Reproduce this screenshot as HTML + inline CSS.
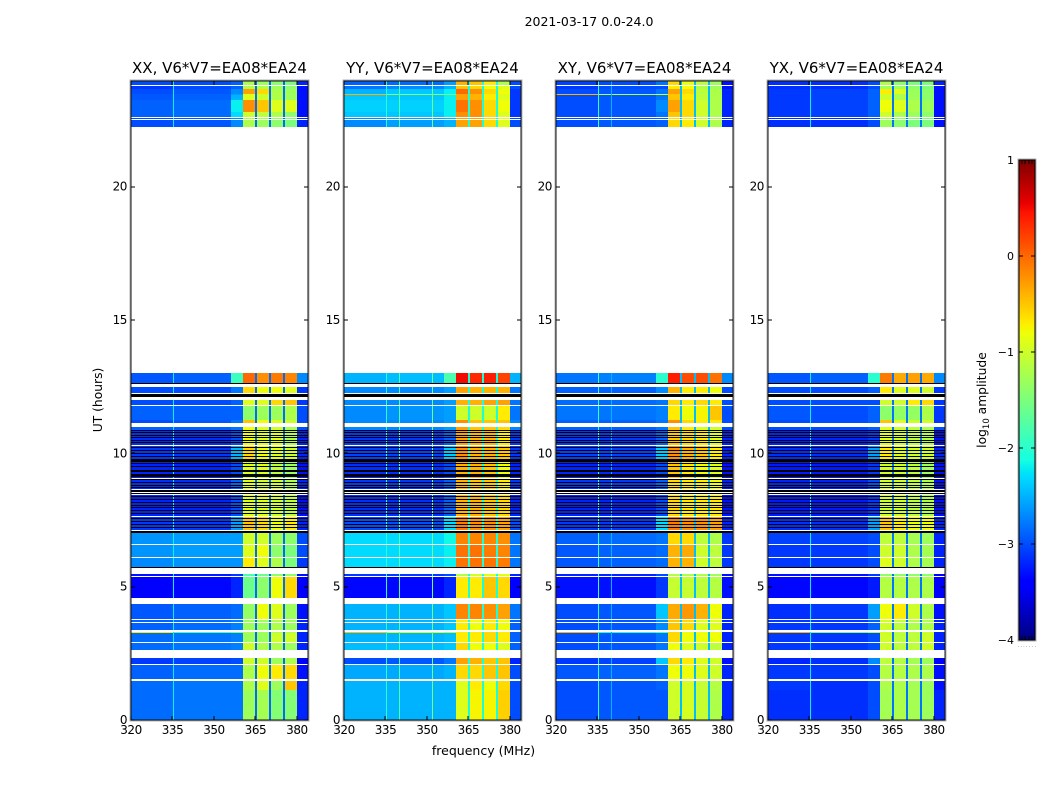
<!DOCTYPE html>
<html>
<head>
<meta charset="utf-8">
<title>2021-03-17 dynamic spectrum</title>
<style>
html,body{margin:0;padding:0;background:#fff;}
svg{display:block;font-family:"DejaVu Sans","Liberation Sans",sans-serif;fill:#000;}
</style>
</head>
<body>
<svg id="figure" xmlns="http://www.w3.org/2000/svg" width="1050" height="800" viewBox="0 0 1050 800">
<text x="589" y="26" font-size="12.5" text-anchor="middle">2021-03-17 0.0-24.0</text>
<text x="483.500" y="755" font-size="12.5" text-anchor="middle">frequency (MHz)</text>
<text x="102" y="400" font-size="12.3" text-anchor="middle" transform="rotate(-90 102 400)">UT (hours)</text>
<text x="986" y="400" font-size="12.3" text-anchor="middle" transform="rotate(-90 986 400)">log<tspan font-size="8.500" dy="3">10</tspan><tspan dy="-3"> amplitude</tspan></text>
<g id="panels"></g>
<g id="colorbar"></g>
</svg>
<script>
// ---- chart data (log10 amplitude, hours, MHz) ----
const panelTitles = ["XX, V6*V7=EA08*EA24","YY, V6*V7=EA08*EA24","XY, V6*V7=EA08*EA24","YX, V6*V7=EA08*EA24"];
const xTickValues = [320,335,350,365,380];
const yTickValues = [0,5,10,15,20];
const colorbarTicks = [-4,-3,-2,-1,0,1];

// frequency bins: edges in MHz, and which row column (0-7) or special level each bin reads
const freqEdges = [320,335.3,335.7,339.9,340.3,351.7,352.1,356,360.5,364.7,365.6,369.9,370.7,374.9,375.7,380,384];
const binColumn = [0,"L0",1,"L1",1,"L2",1,2,3,"G",4,"G",5,"G",6,7];

// time rows with data, in UT hours
const rowStart = [0,1.13,1.53,2.10,2.63,2.925,3.27,3.36,3.675,3.80,4.58,5.41,5.74,6.11,6.6,7.14,7.65,8.66,9.09,9.77,10.31,10.875,11.125,11.25,11.82,12.25,12.63,22.24,22.54,22.6,22.8,23.25,23.45,23.49,23.66,23.8];
const rowEnd   = [1.13,1.47,2.05,2.34,2.89,3.27,3.31,3.64,3.75,4.35,5.37,5.49,6.075,6.56,7.03,7.61,8.43,9.05,9.77,10.27,10.875,10.97,11.25,11.79,12.0,12.5,13.0,22.48,22.57,22.8,23.25,23.45,23.49,23.66,23.76,23.96];

// under-range (black) flagged rows, in UT hours
const underStart = [5.70,7.03,7.22,7.31,7.425,7.54,7.74,7.86,7.95,8.04,8.14,8.25,8.36,8.475,8.56,8.72,8.79,8.89,9.0,9.13,9.3,9.51,9.6,9.675,9.86,9.975,10.09,10.2,10.39,10.48,10.575,10.65,10.76,10.856,12.1,12.58];
const underEnd   = [5.74,7.09,7.25,7.34,7.455,7.57,7.77,7.89,7.98,8.07,8.17,8.28,8.39,8.52,8.625,8.75,8.82,8.92,9.03,9.24,9.375,9.54,9.64,9.77,9.89,10.005,10.12,10.23,10.42,10.51,10.605,10.68,10.79,10.886,12.22,12.62];

// per-panel levels of narrow RFI lines [L0,L1,L2] and of the sub-band gaps
const lineLevels = [[-2.2,null,null],[-2.0,-1.8,-1.6],[-1.9,-2.5,null],[-2.2,null,null]];
const gapLevels = [-2.85,-2.1,-2.45,-2.8];

// row columns: low, mid, edge, band1, band2, band3, band4, right
const xxRows = [
[-2.85,-2.8,-2.8,-1.3,-1.25,-1.45,-1.45,-3.2],
[-2.85,-2.8,-2.8,-1.2,-0.9,-1.3,-0.5,-3.2],
[-2.9,-2.85,-2.85,-1.2,-0.8,-0.7,-0.6,-3.3],
[-3.1,-3.05,-3.0,-1.0,-1.0,-1.3,-1.2,-3.4],
[-2.85,-2.8,-2.75,-1.0,-1.2,-1.2,-1.3,-3.2],
[-2.85,-2.8,-2.75,-1.3,-1.3,-1.0,-1.0,-3.2],
[-0.7,-1.8,-1.5,-1.2,-1.3,-1.2,-1.2,-3.2],
[-2.9,-2.85,-2.75,-1.3,-1.3,-1.2,-1.3,-3.2],
[-2.9,-2.85,-2.75,-1.3,-1.3,-1.2,-1.3,-3.2],
[-2.95,-2.9,-2.85,-1.35,-0.8,-0.9,-1.3,-3.3],
[-3.4,-3.35,-3.2,-1.6,-1.4,-0.8,-0.6,-3.4],
[-3.3,-3.25,-3.1,-1.8,-1.6,-1.4,-1.4,-3.3],
[-2.7,-2.65,-2.65,-0.7,-0.9,-1.2,-1.5,-3.1],
[-2.65,-2.6,-2.6,-0.9,-0.8,-1.4,-1.5,-3.0],
[-2.65,-2.6,-2.6,-1.0,-1.0,-1.3,-1.4,-3.0],
[-3.1,-3.1,-2.6,-0.5,-0.6,-0.8,-0.7,-3.2],
[-3.2,-3.2,-3.0,-0.9,-0.9,-1.0,-1.1,-3.3],
[-3.15,-3.15,-2.9,-0.9,-1.0,-1.0,-1.2,-3.2],
[-3.2,-3.2,-3.0,-0.9,-0.9,-1.1,-1.3,-3.3],
[-3.1,-3.1,-2.5,-0.6,-0.8,-0.9,-1.0,-3.2],
[-3.15,-3.15,-3.0,-0.8,-0.9,-0.9,-1.2,-3.2],
[-2.9,-2.9,-2.8,-0.8,-0.9,-1.0,-1.2,-3.0],
[-3.0,-2.95,-2.8,-0.5,-0.8,-0.9,-1.0,-3.0],
[-2.9,-2.9,-2.9,-1.4,-1.3,-1.3,-1.2,-3.0],
[-3.0,-3.0,-2.9,-0.9,-0.9,-0.6,-0.5,-3.1],
[-3.0,-3.0,-2.8,-0.6,-0.8,-0.8,-0.9,-3.1],
[-2.95,-2.9,-1.9,0.0,-0.2,-0.1,-0.15,-2.7],
[-3.0,-2.95,-2.7,-1.2,-1.3,-1.4,-1.5,-3.2],
[-3.0,-2.95,-2.7,-1.2,-1.3,-1.4,-1.5,-3.2],
[-2.9,-2.85,-2.3,-1.0,-1.1,-1.2,-1.4,-3.3],
[-2.9,-2.85,-2.2,-0.2,-0.5,-0.9,-0.9,-3.3],
[-2.95,-2.9,-2.5,-0.9,-1.0,-1.2,-1.3,-3.3],
[-2.95,-2.9,-2.6,-0.9,-1.0,-1.2,-1.3,-3.3],
[-3.0,-2.95,-2.7,-0.3,-0.6,-1.2,-1.3,-3.3],
[-3.1,-3.0,-2.9,-1.2,-1.2,-1.3,-1.4,-3.3],
[-3.0,-3.0,-2.9,-1.2,-1.3,-1.4,-1.5,-3.2]
];
const yyRows = [
[-2.5,-2.5,-2.5,-0.9,-0.75,-0.75,-0.55,-3.0],
[-2.5,-2.5,-2.5,-0.9,-0.7,-0.8,-0.6,-3.0],
[-2.55,-2.55,-2.5,-0.6,-0.6,-0.5,-0.5,-3.0],
[-3.0,-2.95,-2.8,-0.3,-0.4,-0.5,-0.5,-3.2],
[-2.45,-2.45,-2.4,-0.6,-0.8,-0.8,-0.9,-2.9],
[-2.5,-2.5,-2.45,-0.7,-0.7,-0.6,-0.7,-2.9],
[-0.5,-1.0,-1.2,-0.7,-0.7,-0.6,-0.7,-2.9],
[-2.5,-2.5,-2.4,-0.7,-0.8,-0.7,-0.8,-2.9],
[-2.5,-2.5,-2.4,-0.7,-0.8,-0.7,-0.8,-2.9],
[-2.5,-2.5,-2.4,-0.15,-0.15,-0.2,-0.3,-2.8],
[-3.35,-3.35,-3.2,-0.7,-0.7,-0.5,-0.6,-3.4],
[-3.1,-3.1,-3.0,-1.2,-1.0,-0.9,-0.9,-3.2],
[-2.3,-2.3,-2.2,-0.05,-0.05,-0.05,-0.1,-2.8],
[-2.3,-2.3,-2.2,-0.05,-0.05,-0.1,-0.15,-2.8],
[-2.3,-2.3,-2.15,-0.15,-0.15,-0.15,-0.2,-2.8],
[-3.0,-3.0,-2.3,-0.1,-0.2,-0.2,-0.3,-3.0],
[-3.15,-3.15,-2.9,-0.4,-0.4,-0.5,-0.6,-3.2],
[-3.1,-3.1,-2.9,-0.4,-0.5,-0.5,-0.7,-3.1],
[-3.15,-3.15,-3.0,-0.4,-0.4,-0.5,-0.8,-3.2],
[-3.05,-3.05,-2.4,-0.2,-0.4,-0.4,-0.5,-3.1],
[-3.1,-3.1,-2.9,-0.3,-0.4,-0.4,-0.7,-3.1],
[-2.7,-2.7,-2.6,-0.3,-0.5,-0.5,-0.6,-2.7],
[-2.7,-2.7,-2.6,-0.2,-0.5,-0.5,-0.5,-2.7],
[-2.7,-2.65,-2.6,-1.0,-1.0,-1.0,-0.7,-2.8],
[-2.7,-2.7,-2.6,-0.4,-0.4,-0.3,-0.3,-2.8],
[-2.7,-2.7,-2.6,-0.3,-0.4,-0.4,-0.4,-2.8],
[-2.5,-2.45,-1.8,0.5,0.35,0.4,0.2,-2.5],
[-2.7,-2.6,-2.5,-0.3,-0.3,-0.6,-0.9,-3.0],
[-2.7,-2.6,-2.5,-0.3,-0.3,-0.6,-0.9,-3.0],
[-2.4,-2.4,-2.2,-0.2,-0.2,-0.6,-0.9,-3.1],
[-2.35,-2.35,-2.2,-0.05,-0.2,-0.6,-0.8,-3.1],
[-2.4,-2.4,-2.2,-0.3,-0.4,-0.7,-0.9,-3.1],
[-0.4,-1.5,-1.6,-0.3,-0.4,-0.7,-0.9,-3.1],
[-2.5,-2.4,-2.2,0.0,-0.2,-0.6,-0.8,-3.1],
[-2.8,-2.7,-2.5,-0.5,-0.6,-0.8,-0.9,-3.0],
[-2.9,-2.85,-2.6,-0.4,-0.5,-0.7,-1.2,-3.0]
];
const xyRows = [
[-3.0,-2.95,-2.95,-1.0,-0.95,-1.05,-1.2,-3.2],
[-3.0,-2.95,-2.9,-1.0,-0.95,-1.05,-1.15,-3.2],
[-2.95,-2.9,-2.8,-0.8,-0.8,-0.9,-1.0,-3.2],
[-3.1,-3.05,-2.4,-0.6,-0.7,-0.9,-1.0,-3.3],
[-3.0,-2.95,-2.8,-0.8,-0.9,-1.0,-1.1,-3.2],
[-3.0,-2.95,-2.8,-0.6,-0.8,-0.8,-0.8,-3.2],
[-0.4,-2.0,-1.8,-0.6,-0.8,-0.8,-0.8,-3.2],
[-3.0,-2.95,-2.7,-0.5,-0.6,-0.9,-0.9,-3.2],
[-3.0,-2.95,-2.7,-0.5,-0.6,-0.9,-0.9,-3.2],
[-3.0,-2.95,-2.4,-0.35,-0.25,-0.4,-0.8,-3.2],
[-3.3,-3.3,-3.1,-1.05,-1.05,-1.1,-1.15,-3.3],
[-3.2,-3.2,-3.0,-1.2,-1.2,-1.2,-1.3,-3.3],
[-2.95,-2.9,-2.85,-0.4,-0.4,-1.0,-1.1,-3.1],
[-2.95,-2.9,-2.85,-0.4,-0.35,-1.0,-1.1,-3.1],
[-2.9,-2.85,-2.8,-0.6,-0.6,-1.1,-1.2,-3.1],
[-3.1,-3.1,-2.3,-0.1,-0.2,-0.2,-0.3,-3.2],
[-3.2,-3.2,-3.0,-0.6,-0.7,-0.7,-0.7,-3.3],
[-3.1,-3.1,-2.9,-0.6,-0.7,-0.7,-0.8,-3.2],
[-3.2,-3.2,-3.0,-0.5,-0.7,-0.8,-0.9,-3.3],
[-3.05,-3.05,-2.4,-0.2,-0.4,-0.5,-0.7,-3.2],
[-3.1,-3.1,-2.9,-0.5,-0.6,-0.7,-0.9,-3.2],
[-2.9,-2.9,-2.8,-0.5,-0.7,-0.9,-1.0,-3.0],
[-2.9,-2.9,-2.8,-0.2,-0.6,-0.7,-0.7,-3.0],
[-2.8,-2.8,-2.75,-0.7,-0.8,-0.75,-0.5,-3.0],
[-2.85,-2.85,-2.8,-0.6,-0.7,-0.6,-0.7,-3.0],
[-2.9,-2.9,-2.7,-0.4,-0.7,-0.7,-0.8,-3.0],
[-2.8,-2.75,-2.0,0.4,0.15,0.15,-0.05,-2.7],
[-3.0,-2.95,-2.9,-0.6,-0.7,-1.0,-1.2,-3.2],
[-3.0,-2.95,-2.9,-0.6,-0.7,-1.0,-1.2,-3.2],
[-3.0,-2.95,-2.8,-0.5,-0.6,-1.0,-1.2,-3.2],
[-3.0,-2.95,-2.7,-0.3,-0.6,-1.0,-1.2,-3.2],
[-3.0,-2.95,-2.8,-0.5,-0.7,-1.1,-1.2,-3.2],
[-0.4,-1.2,-1.0,-0.5,-0.7,-1.1,-1.2,-3.2],
[-3.0,-2.95,-2.8,-0.3,-0.6,-1.1,-1.2,-3.2],
[-3.1,-3.0,-3.0,-0.7,-0.8,-1.2,-1.3,-3.3],
[-3.05,-3.0,-2.8,-0.6,-0.8,-1.1,-1.3,-3.3]
];
const yxRows = [
[-3.15,-3.15,-3.0,-1.25,-1.2,-1.25,-1.3,-3.2],
[-3.1,-3.15,-3.0,-1.2,-1.2,-1.25,-1.3,-3.3],
[-3.1,-3.1,-3.0,-1.15,-1.15,-1.2,-1.2,-3.3],
[-3.2,-3.15,-2.7,-1.1,-1.15,-1.25,-1.3,-3.4],
[-3.1,-3.1,-3.0,-1.0,-1.1,-1.1,-1.0,-3.2],
[-3.1,-3.1,-3.0,-1.0,-1.1,-1.1,-1.0,-3.2],
[-0.4,-1.5,-1.2,-1.0,-1.1,-1.1,-1.0,-3.2],
[-3.1,-3.1,-2.9,-1.0,-1.1,-1.2,-1.2,-3.2],
[-3.1,-3.1,-2.9,-1.0,-1.1,-1.2,-1.2,-3.2],
[-3.15,-3.1,-2.6,-0.8,-0.7,-1.0,-1.2,-3.3],
[-3.35,-3.35,-3.25,-1.15,-1.15,-1.2,-1.2,-3.4],
[-3.3,-3.3,-3.1,-1.4,-1.4,-1.4,-1.4,-3.4],
[-3.1,-3.1,-3.0,-0.9,-1.0,-1.2,-1.25,-3.2],
[-3.1,-3.1,-3.0,-1.0,-1.0,-1.2,-1.25,-3.2],
[-3.05,-3.05,-3.0,-1.1,-1.1,-1.25,-1.3,-3.2],
[-3.15,-3.15,-2.6,-0.5,-0.7,-0.8,-0.8,-3.2],
[-3.25,-3.25,-3.1,-1.0,-1.0,-1.1,-1.2,-3.3],
[-3.2,-3.2,-3.0,-1.0,-1.0,-1.1,-1.2,-3.3],
[-3.25,-3.25,-3.1,-1.0,-1.0,-1.1,-1.3,-3.3],
[-3.15,-3.15,-2.6,-0.7,-0.9,-1.0,-1.0,-3.2],
[-3.2,-3.2,-3.1,-0.9,-1.0,-1.1,-1.2,-3.3],
[-3.0,-3.0,-2.9,-0.9,-1.0,-1.1,-1.2,-3.0],
[-3.0,-3.0,-2.9,-0.5,-0.9,-1.0,-1.0,-3.1],
[-2.95,-3.0,-2.9,-1.4,-1.35,-1.35,-1.2,-3.1],
[-3.0,-3.0,-3.0,-1.0,-1.0,-0.7,-0.6,-3.1],
[-3.0,-3.0,-2.9,-0.7,-0.9,-0.9,-1.0,-3.1],
[-2.95,-2.9,-2.0,-0.1,-0.35,-0.3,-0.35,-2.7],
[-3.15,-3.15,-3.0,-1.3,-1.4,-1.5,-1.5,-3.3],
[-3.15,-3.15,-3.0,-1.3,-1.4,-1.5,-1.5,-3.3],
[-3.1,-3.05,-2.9,-1.0,-1.2,-1.3,-1.4,-3.3],
[-3.1,-3.05,-2.9,-0.8,-0.9,-1.2,-1.3,-3.3],
[-3.1,-3.05,-2.9,-1.0,-1.2,-1.3,-1.4,-3.3],
[-3.1,-3.05,-2.9,-1.0,-1.2,-1.3,-1.4,-3.3],
[-3.1,-3.05,-2.9,-0.7,-0.9,-1.3,-1.4,-3.3],
[-3.15,-3.15,-3.0,-1.3,-1.3,-1.4,-1.5,-3.3],
[-3.15,-3.15,-3.0,-1.2,-1.4,-1.5,-1.5,-3.2]
];
const panelRows = [xxRows,yyRows,xyRows,yxRows];

// ---- layout and scales ----
const SVG_NS = "http://www.w3.org/2000/svg";
const panelLeft = [131,344,556,768];
const axisWidth = 177, axisTop = 81, axisBottom = 720;
const freqMin = 320, freqMax = 384, hourMin = 0, hourMax = 23.96;
function xScale(panel, f){ return panelLeft[panel] + (f - freqMin) / (freqMax - freqMin) * axisWidth; }
function yScale(h){ return axisBottom - (h - hourMin) / (hourMax - hourMin) * (axisBottom - axisTop); }
const cbLeft = 1019, cbWidth = 16, cbTop = 160, cbBottom = 640, cbMin = -4, cbMax = 1;
function cbScale(v){ return cbBottom - (v - cbMin) / (cbMax - cbMin) * (cbBottom - cbTop); }

function ramp(t, pts){
  for (let i = 1; i < pts.length; i++) {
    if (t <= pts[i][0]) {
      const a = pts[i-1], b = pts[i];
      return a[1] + (t - a[0]) / (b[0] - a[0]) * (b[1] - a[1]);
    }
  }
  return pts[pts.length-1][1];
}
function jet(v){
  if (v < cbMin) return "#000";
  const t = Math.min(1, (v - cbMin) / (cbMax - cbMin));
  const r = ramp(t, [[0,0],[0.35,0],[0.66,1],[0.89,1],[1,0.5]]);
  const g = ramp(t, [[0,0],[0.125,0],[0.375,1],[0.64,1],[0.91,0],[1,0]]);
  const b = ramp(t, [[0,0.5],[0.11,1],[0.34,1],[0.65,0],[1,0]]);
  return "rgb(" + Math.round(r*255) + "," + Math.round(g*255) + "," + Math.round(b*255) + ")";
}
function make(tag, attrs, parent){
  const el = document.createElementNS(SVG_NS, tag);
  for (const k in attrs) el.setAttribute(k, attrs[k]);
  parent.appendChild(el);
  return el;
}
function line(x1, y1, x2, y2, parent, name){
  const el = make("line", {x1:Math.round(x1), y1:Math.round(y1), x2:Math.round(x2), y2:Math.round(y2), stroke:"#000", "stroke-width":1, "shape-rendering":"crispEdges"}, parent);
  
  
  return el;
}
function binValue(panel, row, bin){
  const col = binColumn[bin];
  if (col === "G") return gapLevels[panel];
  if (typeof col === "string") {
    const level = lineLevels[panel][Number(col.slice(1))];
    return level === null ? panelRows[panel][row][1] : level;
  }
  return panelRows[panel][row][col];
}

// ---- panels ----
const panelsRoot = document.getElementById("panels");
panelTitles.forEach(function(title, p){
  const g = make("g", {}, panelsRoot);
  
  

  rowStart.forEach(function(h0, r){
    const y0 = Math.round(yScale(rowEnd[r])), y1 = Math.round(yScale(h0));
    for (let b = 0; b < binColumn.length; b++) {
      const x0 = Math.round(xScale(p, freqEdges[b])), x1 = Math.round(xScale(p, freqEdges[b+1]));
      const cell = make("rect", {x:x0, y:y0, width:Math.max(1, x1-x0), height:Math.max(1, y1-y0), fill:jet(binValue(p, r, b)), "shape-rendering":"crispEdges"}, g);
      
      
    }
  });

  underStart.forEach(function(h0, i){
    const y0 = Math.round(yScale(underEnd[i])), y1 = Math.round(yScale(h0));
    const stripe = make("rect", {x:panelLeft[p], y:y0, width:axisWidth, height:Math.max(1, y1-y0), fill:"#000", "shape-rendering":"crispEdges"}, g);
    
    
  });

  const halo = make("rect", {x:panelLeft[p]-1, y:axisTop-1, width:axisWidth+2, height:axisBottom-axisTop+2, fill:"none", stroke:"#b0b0b0", "stroke-width":1, "shape-rendering":"crispEdges"}, g);
  
  
  const frame = make("rect", {x:panelLeft[p], y:axisTop, width:axisWidth, height:axisBottom-axisTop, fill:"none", stroke:"#111", "stroke-width":1, "shape-rendering":"crispEdges"}, g);
  
  

  const t = make("text", {x:panelLeft[p]+axisWidth/2, y:73, "font-size":15, "text-anchor":"middle"}, g);
  
  
  t.textContent = title;

  xTickValues.forEach(function(f){
    const x = xScale(p, f);
    line(x, axisBottom, x, axisBottom-4, g, 'x-tick');
    line(x, axisTop, x, axisTop+4, g, 'x-tick-top');
    const lab = make("text", {x:x, y:axisBottom+14, "font-size":12, "text-anchor":"middle", "letter-spacing":"-0.45"}, g);
    
    
    lab.textContent = f;
  });
  yTickValues.forEach(function(h){
    const y = yScale(h);
    line(panelLeft[p], y, panelLeft[p]+4, y, g, 'y-tick');
    line(panelLeft[p]+axisWidth, y, panelLeft[p]+axisWidth-4, y, g, 'y-tick-right');
    const lab = make("text", {x:panelLeft[p]-4, y:y+4, "font-size":12, "text-anchor":"end", "letter-spacing":"-0.45"}, g);
    
    
    lab.textContent = h;
  });
});

// ---- colorbar ----
const cbRoot = document.getElementById("colorbar");
for (let py = cbTop; py < cbBottom; py++) {
  const v = cbMax - (py + 0.5 - cbTop) / (cbBottom - cbTop) * (cbMax - cbMin);
  const sw = make("rect", {x:cbLeft, y:py, width:cbWidth, height:1, fill:jet(v), "shape-rendering":"crispEdges"}, cbRoot);
  
  
}
const cbHalo = make("rect", {x:cbLeft-1, y:cbTop-1, width:cbWidth+2, height:cbBottom-cbTop+2, fill:"none", stroke:"#b0b0b0", "stroke-width":1, "shape-rendering":"crispEdges"}, cbRoot);


const cbFrame = make("rect", {x:cbLeft, y:cbTop, width:cbWidth, height:cbBottom-cbTop, fill:"none", stroke:"#000", "stroke-width":1, "shape-rendering":"crispEdges"}, cbRoot);


colorbarTicks.forEach(function(v){
  const y = cbScale(v);
  line(cbLeft, y, cbLeft+4, y, cbRoot, 'colorbar-tick');
  line(cbLeft+cbWidth, y, cbLeft+cbWidth-4, y, cbRoot, 'colorbar-tick-right');
  const lab = make("text", {x:cbLeft-5, y:y+4, "font-size":11, "text-anchor":"end"}, cbRoot);
  
  
  lab.textContent = String(v).replace("-", "\u2212");
});
for (let i = 1; i < 5; i++) {
  const x = cbLeft + i * cbWidth / 5;
  line(x, cbTop, x, cbTop+4, cbRoot, 'colorbar-minor-tick-top');
  line(x, cbBottom, x, cbBottom-4, cbRoot, 'colorbar-minor-tick-bottom');
}
const cbDots = make("text", {x:1017.5, y:647, "font-size":5, fill:"#555", "letter-spacing":"1.25"}, cbRoot);


cbDots.textContent = ".......";
</script>
</body>
</html>
